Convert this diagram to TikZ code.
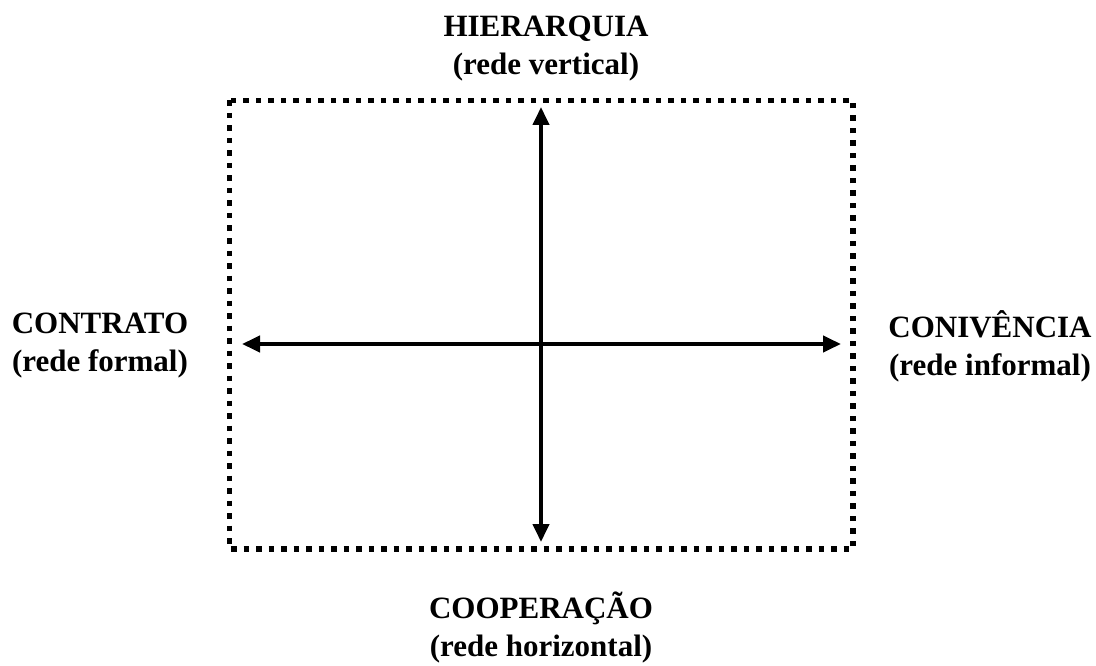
\documentclass[tikz,border=0pt]{standalone}
\usepackage{fontspec}
\setmainfont{Liberation Serif}
\usetikzlibrary{arrows.meta}
\begin{document}
\begin{tikzpicture}[x=1pt,y=-1pt,
  lbl/.style={font=\fontsize{31}{38}\selectfont\bfseries, align=center, inner sep=0pt},
  frame/.style={line width=5.5pt, dash pattern=on 5.5pt off 7pt, line cap=butt},
  axis/.style={line width=4pt, {Triangle[length=18pt,width=16pt]}-{Triangle[length=18pt,width=16pt]}}]
\useasboundingbox (0,0) rectangle (1096,666);
\draw[frame] (229.5,100.5) rectangle (853,549);
\coordinate (top) at (541,107);
\coordinate (bot) at (541,542);
\coordinate (lft) at (242,344);
\coordinate (rgt) at (841,344);
\draw[axis] (top) -- (bot);
\draw[axis] (lft) -- (rgt);
\node[lbl] (hier) at (546,49) {HIERARQUIA\\(rede vertical)};
\node[lbl] (coop) at (541,627) {COOPERAÇÃO\\(rede horizontal)};
\node[lbl] (contr) at (100,346) {CONTRATO\\(rede formal)};
\node[lbl] (conv) at (990,346) {CONIVÊNCIA\\(rede informal)};
\end{tikzpicture}
\end{document}
